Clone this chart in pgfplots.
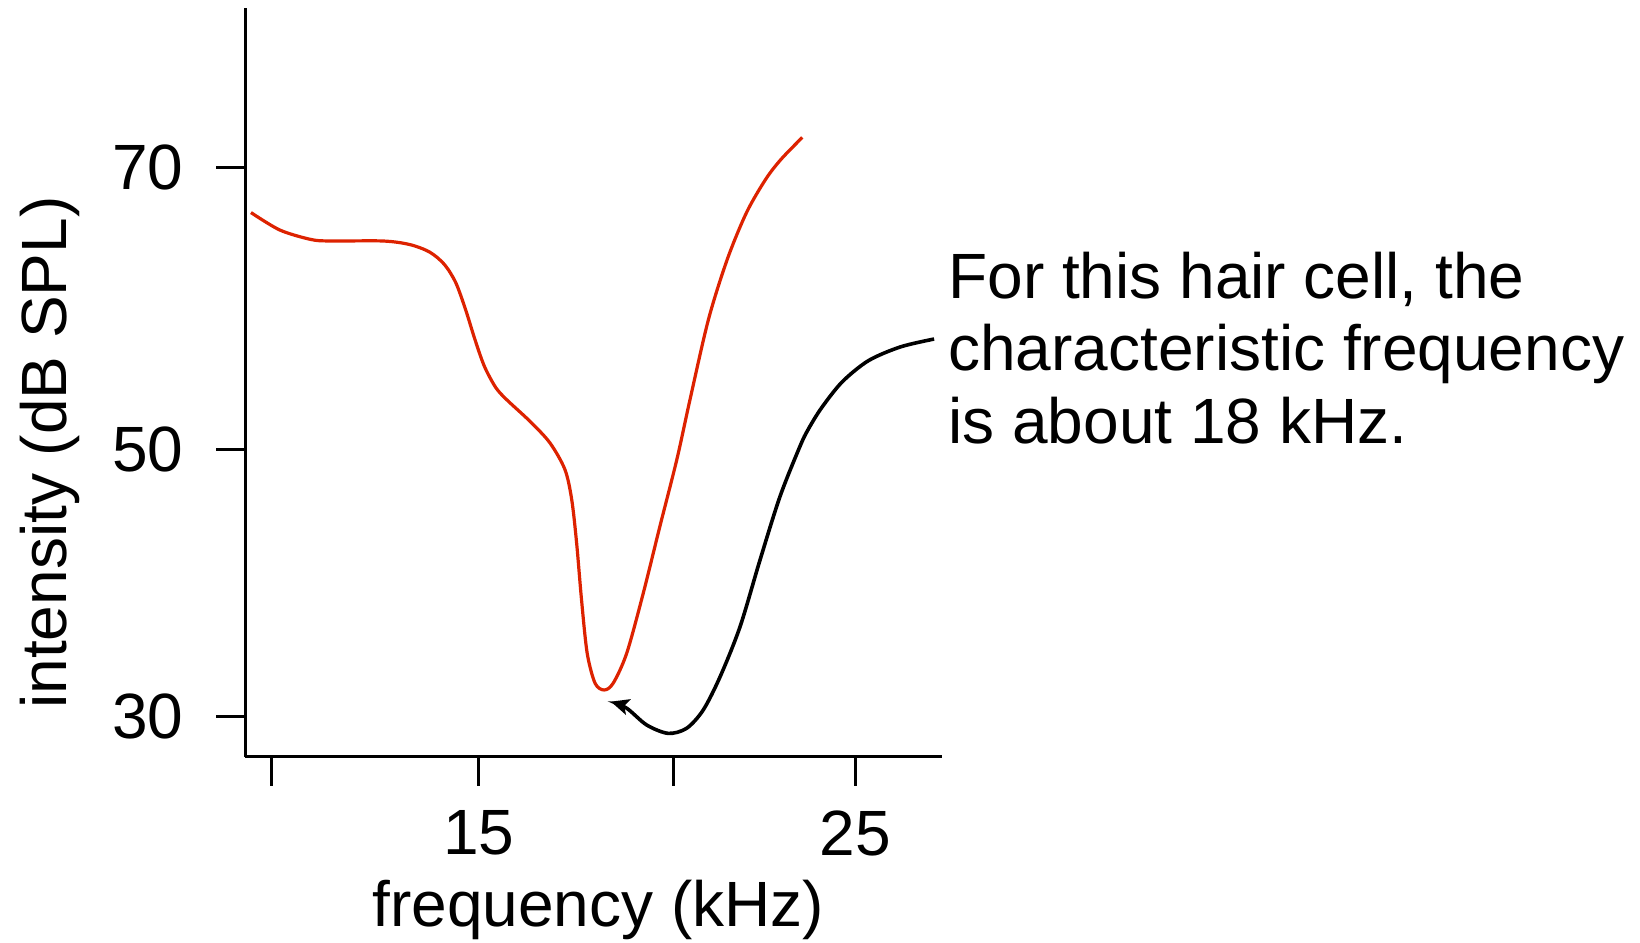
\documentclass[border=0pt]{standalone}
\usepackage{fontspec}
\setmainfont{Liberation Sans}
\usepackage{pgfplots}
\pgfplotsset{compat=1.18}
\usetikzlibrary{arrows.meta}
\definecolor{curvered}{RGB}{221,34,0}
\begin{document}
\begin{tikzpicture}[font=\fontsize{32}{36}\selectfont]
\begin{axis}[
  scale only axis, width=348.15pt, height=374.15pt,
  xmin=8.804, xmax=27.289, ymin=27.10, ymax=81.60,
  axis x line*=bottom, axis y line*=left,
  axis line style={-, line width=1.7pt, black},
  xtick={9.49,15,20.17,25}, xticklabels={,\mbox{15},,\mbox{25}},
  ytick={30,49.45,70}, yticklabels={\mbox{30},\mbox{50},\mbox{70}},
  tick align=outside, major tick length=14.5pt,
  tick style={black, line width=1.6pt},
  tick label style={font=\fontsize{32}{36}\selectfont},
  xticklabel style={anchor=north, inner sep=0pt, yshift=-12.15pt},
  yticklabel style={anchor=east, inner sep=0pt, xshift=-16.15pt},
  clip=false,
]
\addplot[curvered, line width=1.6pt, smooth] coordinates {
(8.955,66.73) (9.72,65.46) (10.53,64.78) (11.04,64.66) (12.46,64.66)
(13.17,64.40) (13.70,63.85) (14.09,62.95) (14.39,61.63) (14.65,59.68)
(14.90,57.49) (15.15,55.54) (15.45,54.00) (15.74,53.11) (16.36,51.53)
(16.89,49.96) (17.29,48.01) (17.47,45.82) (17.60,42.66) (17.73,38.53)
(17.88,34.64) (18.09,32.45) (18.33,31.96) (18.57,32.45) (18.93,34.64)
(19.37,39.02) (19.81,43.87) (20.26,48.74) (20.61,53.11) (21.10,58.95)
(21.60,63.33) (22.11,66.73) (22.62,69.16) (23.03,70.62) (23.59,72.20)
};
\addplot[black, line width=1.8pt, smooth, -{Stealth[length=9pt,width=8pt,inset=2pt]}] coordinates {
(27.09,57.52) (26.20,56.95) (25.35,55.95) (24.65,54.40) (24.10,52.50)
(23.75,50.95) (23.53,49.71) (23.00,46.06) (22.47,41.44) (21.94,36.58)
(21.41,32.93) (20.96,30.50) (20.52,29.17) (20.03,28.80) (19.46,29.41)
(18.93,30.63) (18.51,31.11)
};
\node[rotate=90, anchor=base, inner sep=0pt] at (rel axis cs:-0.2565,0.4065) {intensity (dB SPL)};
\node[anchor=base, inner sep=0pt] at (rel axis cs:0.5068,-0.2272) {frequency (kHz)};
\end{axis}
\node[anchor=base west, inner sep=0pt] at (351.35pt,229.2pt) {For this hair cell, the};
\node[anchor=base west, inner sep=0pt] at (351.35pt,192.95pt) {characteristic frequency};
\node[anchor=base west, inner sep=0pt] at (351.35pt,156.7pt) {is about 18 kHz.};
\pgfresetboundingbox
\path[use as bounding box] (-122.65pt,-93.15pt) rectangle (697.35pt,378.35pt);
\end{tikzpicture}
\end{document}
